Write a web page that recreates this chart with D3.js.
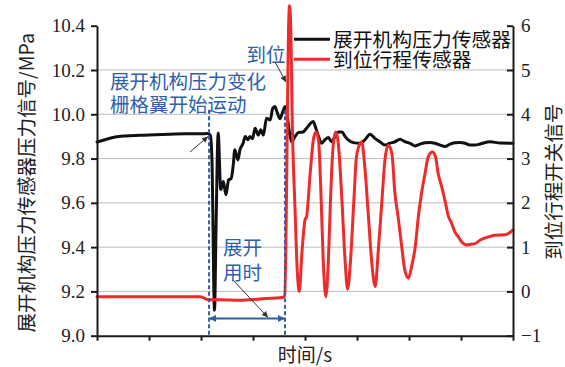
<!DOCTYPE html>
<html>
<head>
<meta charset="utf-8">
<script src="https://cdn.jsdelivr.net/npm/d3@7"></script>
<style>
  html, body { margin: 0; padding: 0; background: #fff; }
  svg { display: block; }
  .tick text { font-family: "Liberation Serif", "DejaVu Serif", serif; font-size: 19px; fill: #222; }
  .cjk { font-family: "Noto Sans CJK SC", "Noto Sans", sans-serif; }
</style>
</head>
<body>
<svg id="chart" width="565" height="367"></svg>
<script>
// Deployment pressure sensor (left axis, MPa)
const pressureTime = [0.000, 0.015, 0.035, 0.054, 0.083, 0.112, 0.140, 0.169, 0.198, 0.213,
  0.218, 0.221, 0.226, 0.229, 0.233, 0.238, 0.243, 0.248, 0.253, 0.258,
  0.262, 0.265, 0.271, 0.275, 0.281, 0.285, 0.290, 0.294, 0.299, 0.304,
  0.310, 0.315, 0.320, 0.326, 0.333, 0.338, 0.342, 0.347, 0.352, 0.357,
  0.362, 0.366, 0.370, 0.374, 0.381, 0.387, 0.396, 0.403, 0.411, 0.416,
  0.419, 0.426, 0.432, 0.438, 0.445, 0.451, 0.458, 0.464, 0.471, 0.477,
  0.483, 0.493, 0.506, 0.515, 0.525, 0.535, 0.544, 0.554, 0.563, 0.573,
  0.583, 0.592, 0.602, 0.612, 0.621, 0.631, 0.640, 0.650, 0.660, 0.669,
  0.679, 0.688, 0.698, 0.708, 0.717, 0.727, 0.737, 0.756, 0.775, 0.800];
const pressure = [9.875, 9.885, 9.897, 9.902, 9.905, 9.908, 9.910, 9.912, 9.912, 9.913,
  9.905, 9.800, 9.115, 9.500, 9.915, 9.660, 9.696, 9.636, 9.703, 9.710,
  9.770, 9.840, 9.794, 9.840, 9.869, 9.900, 9.885, 9.900, 9.890, 9.937,
  9.906, 9.930, 9.906, 9.982, 9.974, 10.027, 10.035, 10.005, 9.980, 10.010,
  10.035, 9.990, 9.920, 9.876, 9.900, 9.917, 9.920, 9.937, 9.960, 9.967,
  9.950, 9.900, 9.869, 9.884, 9.895, 9.876, 9.900, 9.920, 9.920, 9.900,
  9.884, 9.872, 9.869, 9.884, 9.910, 9.890, 9.876, 9.861, 9.869, 9.876,
  9.887, 9.876, 9.869, 9.857, 9.865, 9.871, 9.873, 9.869, 9.861, 9.854,
  9.865, 9.871, 9.873, 9.869, 9.861, 9.861, 9.866, 9.876, 9.870, 9.869];

// In-position travel switch (right axis)
const switchTime = [0.000, 0.102, 0.198, 0.206, 0.213, 0.237, 0.275, 0.313, 0.358, 0.361,
  0.369, 0.370, 0.372, 0.376, 0.381, 0.385, 0.389, 0.394, 0.400, 0.403,
  0.410, 0.416, 0.421, 0.426, 0.430, 0.435, 0.440, 0.445, 0.449, 0.454,
  0.459, 0.464, 0.471, 0.477, 0.482, 0.488, 0.494, 0.499, 0.506, 0.509,
  0.515, 0.522, 0.528, 0.535, 0.541, 0.548, 0.554, 0.560, 0.567, 0.573,
  0.579, 0.586, 0.592, 0.599, 0.605, 0.612, 0.618, 0.624, 0.631, 0.637,
  0.645, 0.651, 0.656, 0.663, 0.669, 0.676, 0.682, 0.688, 0.695, 0.701,
  0.711, 0.721, 0.727, 0.737, 0.750, 0.765, 0.785, 0.794, 0.800];
const switchSignal = [-0.12, -0.12, -0.12, -0.15, -0.19, -0.19, -0.20, -0.17, -0.13, -0.10,
  6.20, 6.45, 6.20, 3.57, 1.80, 0.50, 0.00, 0.86, 1.61, 1.69,
  2.67, 3.42, 3.60, 3.42, 2.44, 0.71, -0.12, 0.71, 2.06, 3.27,
  3.60, 3.34, 2.06, 0.71, 0.05, 0.78, 2.06, 3.04, 3.34, 3.38,
  2.82, 1.69, 0.71, 0.11, 0.93, 2.06, 3.00, 3.30, 3.12, 2.21,
  1.69, 1.01, 0.48, 0.30, 0.56, 1.01, 1.69, 2.21, 2.67, 3.04,
  3.15, 3.04, 2.67, 2.36, 2.06, 1.69, 1.54, 1.35, 1.23, 1.12,
  1.05, 1.07, 1.08, 1.16, 1.22, 1.27, 1.28, 1.33, 1.39];

const leftTicks = [9.0, 9.2, 9.4, 9.6, 9.8, 10.0, 10.2, 10.4];
const rightTicks = [-1, 0, 1, 2, 3, 4, 5, 6];
const timeTicks = [0, 0.1, 0.2, 0.3, 0.4, 0.5, 0.6, 0.7, 0.8];

const seriesNames = ["展开机构压力传感器", "到位行程传感器"];
const seriesColors = ["#111111", "#ee2a2a"];

// Event markers (time in s): pressure change onset and in-position moment
const startTime = 0.2155;
const endTime = 0.3615;

const W = 565, H = 367;
const margin = { top: 25.7, right: 52, bottom: 31.3, left: 97 };
const svg = d3.select("#chart");

const x = d3.scaleLinear().domain([0, 0.8]).range([margin.left, W - margin.right]);
const yL = d3.scaleLinear().domain([9.0, 10.4]).range([H - margin.bottom, margin.top]);
const yR = d3.scaleLinear().domain([-1, 6]).range([H - margin.bottom, margin.top]);

const blue = "#2f5faa";
const defs = svg.append("defs");
function marker(id, color, w, h) {
  defs.append("marker").attr("id", id)
    .attr("viewBox", "0 0 10 10").attr("refX", 10).attr("refY", 5)
    .attr("markerUnits", "userSpaceOnUse")
    .attr("markerWidth", w).attr("markerHeight", h)
    .attr("orient", "auto-start-reverse")
    .append("path").attr("d", "M0,0 L10,5 L0,10 Z").attr("fill", color);
}
marker("arrowDark", "#333", 8, 6);
marker("arrowBlue", blue, 9, 7);

// grid lines (no line at the top value)
svg.append("g").selectAll("line")
  .data(leftTicks.filter(d => d > 9.0 && d < 10.4))
  .join("line")
  .attr("x1", x(0)).attr("x2", x(0.8))
  .attr("y1", d => yL(d)).attr("y2", d => yL(d))
  .attr("stroke", "#bdbdbd").attr("stroke-width", 1);

// data lines
const pressureLine = d3.line()
  .x((d, i) => x(pressureTime[i])).y(d => yL(d))
  .curve(d3.curveMonotoneX);
const switchLine = d3.line()
  .x((d, i) => x(switchTime[i])).y(d => yR(d))
  .curve(d3.curveMonotoneX);

svg.append("path").datum(pressure)
  .attr("d", pressureLine).attr("fill", "none")
  .attr("stroke", seriesColors[0]).attr("stroke-width", 3)
  .attr("stroke-linejoin", "round").attr("stroke-linecap", "round");
svg.append("path").datum(switchSignal)
  .attr("d", switchLine).attr("fill", "none")
  .attr("stroke", seriesColors[1]).attr("stroke-width", 3)
  .attr("stroke-linejoin", "round").attr("stroke-linecap", "round");

// axes
function styleAxis(g) {
  g.selectAll(".domain").attr("stroke", "#1a1a1a").attr("stroke-width", 2);
  g.selectAll(".tick line").attr("stroke", "#1a1a1a").attr("stroke-width", 2);
}
svg.append("g")
  .attr("transform", `translate(0,${H - margin.bottom})`)
  .call(d3.axisBottom(x).tickValues(timeTicks).tickSize(5).tickSizeOuter(0).tickFormat(""))
  .call(styleAxis);
svg.append("g")
  .attr("transform", `translate(${margin.left},0)`)
  .call(d3.axisLeft(yL).tickValues(leftTicks).tickSize(6).tickSizeOuter(0).tickPadding(6)
    .tickFormat(d3.format(".1f")))
  .call(styleAxis);
svg.append("g")
  .attr("transform", `translate(${W - margin.right},0)`)
  .call(d3.axisRight(yR).tickValues(rightTicks).tickSize(-6).tickSizeOuter(0).tickPadding(8)
    .tickFormat(d3.format("d")))
  .call(styleAxis);

// axis titles
svg.append("text").attr("class", "cjk")
  .attr("transform", `translate(25,${(yL(9.0) + yL(10.4)) / 2 + 2}) rotate(-90)`)
  .attr("text-anchor", "middle").attr("dominant-baseline", "central")
  .attr("font-size", 19.5).attr("fill", "#222")
  .text("展开机构压力传感器压力信号/MPa");
svg.append("text").attr("class", "cjk")
  .attr("transform", `translate(552,${(yR(-1) + yR(6)) / 2 + 1}) rotate(-90)`)
  .attr("text-anchor", "middle").attr("dominant-baseline", "central")
  .attr("font-size", 19.5).attr("fill", "#222")
  .text("到位行程开关信号");
svg.append("text").attr("class", "cjk")
  .attr("x", x(0.4)).attr("y", 353)
  .attr("text-anchor", "middle").attr("dominant-baseline", "central")
  .attr("font-size", 19)
  .attr("fill", "#222")
  .text("时间/s");

// legend
const legend = svg.append("g");
seriesNames.forEach((name, i) => {
  const ly = 39.3 + i * 20;
  legend.append("line").attr("x1", 294).attr("x2", 330).attr("y1", ly).attr("y2", ly)
    .attr("stroke", seriesColors[i]).attr("stroke-width", 3);
  legend.append("text").attr("class", "cjk")
    .attr("x", 333).attr("y", ly - 1)
    .attr("dominant-baseline", "central")
    .attr("font-size", 19.8).attr("fill", "#111")
    .text(name);
});

// annotations
const ann = svg.append("g");
[startTime, endTime].forEach(t => {
  ann.append("line")
    .attr("x1", x(t)).attr("x2", x(t))
    .attr("y1", yL(10.02)).attr("y2", yL(9.0))
    .attr("stroke", blue).attr("stroke-width", 2)
    .attr("stroke-dasharray", "4,2.5");
});
ann.append("line")
  .attr("x1", x(startTime)).attr("x2", x(endTime))
  .attr("y1", yR(-0.61)).attr("y2", yR(-0.61))
  .attr("stroke", blue).attr("stroke-width", 2)
  .attr("marker-start", "url(#arrowBlue)").attr("marker-end", "url(#arrowBlue)");

function note(lines, cx, cy, anchor, gap) {
  lines.forEach((s, i) => {
    ann.append("text").attr("class", "cjk")
      .attr("x", cx).attr("y", cy + i * gap)
      .attr("text-anchor", anchor).attr("dominant-baseline", "central")
      .attr("font-size", 19.5).attr("fill", blue)
      .text(s);
  });
}
note(["展开机构压力变化", "栅格翼开始运动"], 110, 80.5, "start", 22.5);
note(["到位"], 266, 53, "middle", 0);
note(["展开", "用时"], 242.5, 246.5, "middle", 25);

function pointer(x1, y1, x2, y2) {
  ann.append("line").attr("x1", x1).attr("y1", y1).attr("x2", x2).attr("y2", y2)
    .attr("stroke", "#333").attr("stroke-width", 1)
    .attr("marker-end", "url(#arrowDark)");
}
pointer(190, 152, x(startTime) - 1, yL(9.913) + 3);
pointer(275, 62, 286, 82);
pointer(233, 280, 268, yR(-0.61) - 1);
</script>
</body>
</html>
